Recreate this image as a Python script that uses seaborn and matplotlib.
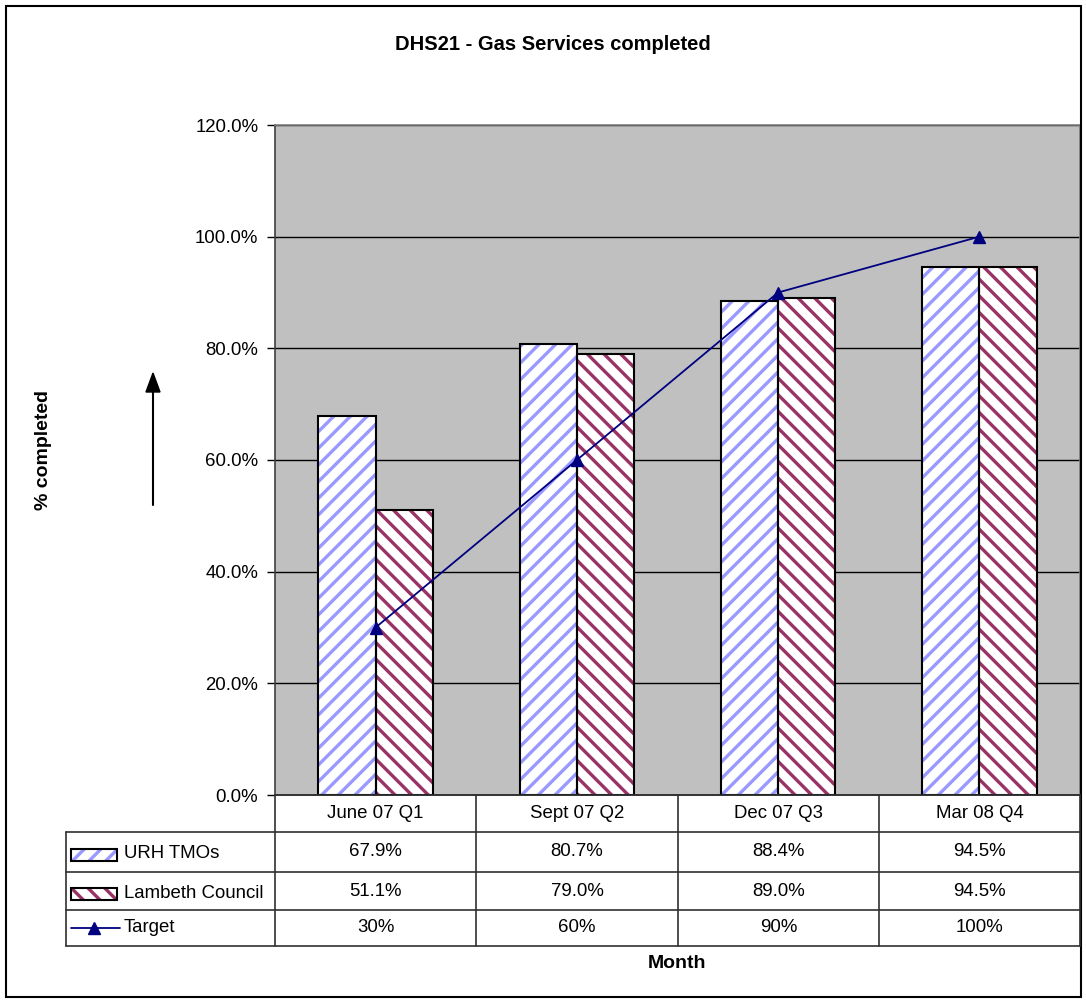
import numpy as np
import pandas as pd
import matplotlib
matplotlib.use("Agg")
import matplotlib.pyplot as plt
import seaborn as sns
from matplotlib.lines import Line2D
from matplotlib.patches import Rectangle

months = ["June 07 Q1", "Sept 07 Q2", "Dec 07 Q3", "Mar 08 Q4"]
urh_tmos = [67.9, 80.7, 88.4, 94.5]
lambeth = [51.1, 79.0, 89.0, 94.5]
target = [30, 60, 90, 100]
series_names = ["URH TMOs", "Lambeth Council"]
hatch_colors = ["#9999FF", "#993366"]
hatches = ["//", "\\\\"]

df = pd.DataFrame({
    "Month": months * 2,
    "Value": urh_tmos + lambeth,
    "Series": [series_names[0]] * 4 + [series_names[1]] * 4,
})

sns.set_style("white")
plt.rcParams["font.family"] = ["Liberation Sans", "DejaVu Sans"]
plt.rcParams["text.color"] = "black"
plt.rcParams["ytick.color"] = "black"
plt.rcParams["ytick.labelcolor"] = "black"
plt.rcParams["hatch.linewidth"] = 2.4

W, H = 1086, 1000
fig = plt.figure(figsize=(W / 100, H / 100), dpi=100)


def fx(px):
    return px / W


def fy(py):
    return 1 - py / H


ax_l, ax_r, ax_t, ax_b = 275, 1080, 125, 795
ax = fig.add_axes([fx(ax_l), fy(ax_b), fx(ax_r) - fx(ax_l), fy(ax_t) - fy(ax_b)])
ax.set_facecolor("#C0C0C0")

sns.barplot(data=df, x="Month", y="Value", hue="Series", order=months,
            hue_order=series_names, width=0.57, ax=ax, legend=False,
            saturation=1)

for cont, col, h in zip(ax.containers, hatch_colors, hatches):
    for bar in cont:
        bar.set_facecolor("white")
        bar.set_edgecolor(col)
        bar.set_hatch(h)
        bar.set_linewidth(0)
        ax.add_patch(Rectangle((bar.get_x(), bar.get_y()), bar.get_width(), bar.get_height(),
                               fill=False, edgecolor="black", linewidth=1.5, zorder=3))

sns.pointplot(x=months, y=target, color="#000080", markers="^", markersize=8,
              linewidth=1.3, ax=ax, zorder=4)
for coll in ax.collections:
    coll.set_zorder(5)
for ln in ax.lines:
    ln.set_zorder(4)

ax.set_xlim(-0.5, 3.5)
ax.set_ylim(0, 120)
ax.set_yticks(np.arange(0, 121, 20))
ax.set_yticklabels([f"{v:.1f}%" for v in np.arange(0, 121, 20)], fontsize=13.4, color="black")
ax.set_xticks([])
ax.set_xlabel("")
ax.set_ylabel("")
ax.tick_params(axis="y", direction="out", length=6, width=1, color="black", pad=6, left=True)
ax.yaxis.grid(True, color="black", linewidth=1)
ax.set_axisbelow(True)
for s in ["top", "right"]:
    ax.spines[s].set_color("#808080")
for s in ["left", "bottom"]:
    ax.spines[s].set_color("#404040")
for s in ax.spines.values():
    s.set_linewidth(1.2)

# data table below the plot
col_edges = [275, 476, 678, 879, 1080]
row_edges = [795, 832, 872, 910, 946]
tbl_left = 66
lc = "#303030"


def hline(x0, x1, y):
    fig.add_artist(Line2D([fx(x0), fx(x1)], [fy(y), fy(y)], color=lc, lw=1.2))


def vline(x, y0, y1):
    fig.add_artist(Line2D([fx(x), fx(x)], [fy(y0), fy(y1)], color=lc, lw=1.2))


for x in col_edges:
    vline(x, row_edges[0], row_edges[-1])
vline(tbl_left, row_edges[1], row_edges[-1])
hline(ax_l, ax_r, row_edges[0])
for y in row_edges[1:]:
    hline(tbl_left, ax_r, y)

rows = [
    [f"{v:.1f}%" for v in urh_tmos],
    [f"{v:.1f}%" for v in lambeth],
    [f"{v:.0f}%" for v in target],
]
for i, m in enumerate(months):
    cx = (col_edges[i] + col_edges[i + 1]) / 2
    fig.text(fx(cx), fy((row_edges[0] + row_edges[1]) / 2), m, ha="center", va="center", fontsize=13.4)
    for r, vals in enumerate(rows):
        cy = (row_edges[r + 1] + row_edges[r + 2]) / 2
        fig.text(fx(cx), fy(cy), vals[i], ha="center", va="center", fontsize=13.4)

# legend keys in the table
for r in range(2):
    cy = (row_edges[r + 1] + row_edges[r + 2]) / 2 + 3
    fig.add_artist(Rectangle((fx(71), fy(cy + 6)), fx(117) - fx(71), fy(cy - 6) - fy(cy + 6),
                             facecolor="white", edgecolor=hatch_colors[r], hatch=hatches[r],
                             linewidth=0))
    fig.add_artist(Rectangle((fx(71), fy(cy + 6)), fx(117) - fx(71), fy(cy - 6) - fy(cy + 6),
                             fill=False, edgecolor="black", linewidth=1.5))
    fig.text(fx(124), fy(cy - 1), series_names[r], ha="left", va="center", fontsize=13.4)
cy = (row_edges[3] + row_edges[4]) / 2
fig.add_artist(Line2D([fx(71), fx(120)], [fy(cy), fy(cy)], color="#000080", lw=1.3))
fig.add_artist(Line2D([fx(94)], [fy(cy)], color="#000080", marker="^", markersize=9))
fig.text(fx(124), fy(cy), "Target", ha="left", va="center", fontsize=13.4)

fig.text(fx(553), fy(45), "DHS21 - Gas Services completed", ha="center", va="center",
         fontsize=14.5, fontweight="bold")
fig.text(fx(677), fy(964), "Month", ha="center", va="center", fontsize=14, fontweight="bold")
fig.text(fx(44), fy(450), "% completed", ha="center", va="center", rotation=90,
         fontsize=14, fontweight="bold")
fig.add_artist(plt.Line2D([fx(153), fx(153)], [fy(505), fy(390)], color="black", lw=1.5))
fig.patches.append(matplotlib.patches.FancyArrow(
    fx(153), fy(392), 0, fy(373) - fy(392), width=0, head_width=fx(14) - fx(0),
    head_length=fy(373) - fy(392), length_includes_head=True, color="black",
    transform=fig.transFigure, figure=fig))

fig.add_artist(Rectangle((fx(6), fy(997)), fx(1081) - fx(6), fy(6) - fy(997),
                         fill=False, edgecolor="black", linewidth=1.5))

fig.savefig("out.png", dpi=100)
